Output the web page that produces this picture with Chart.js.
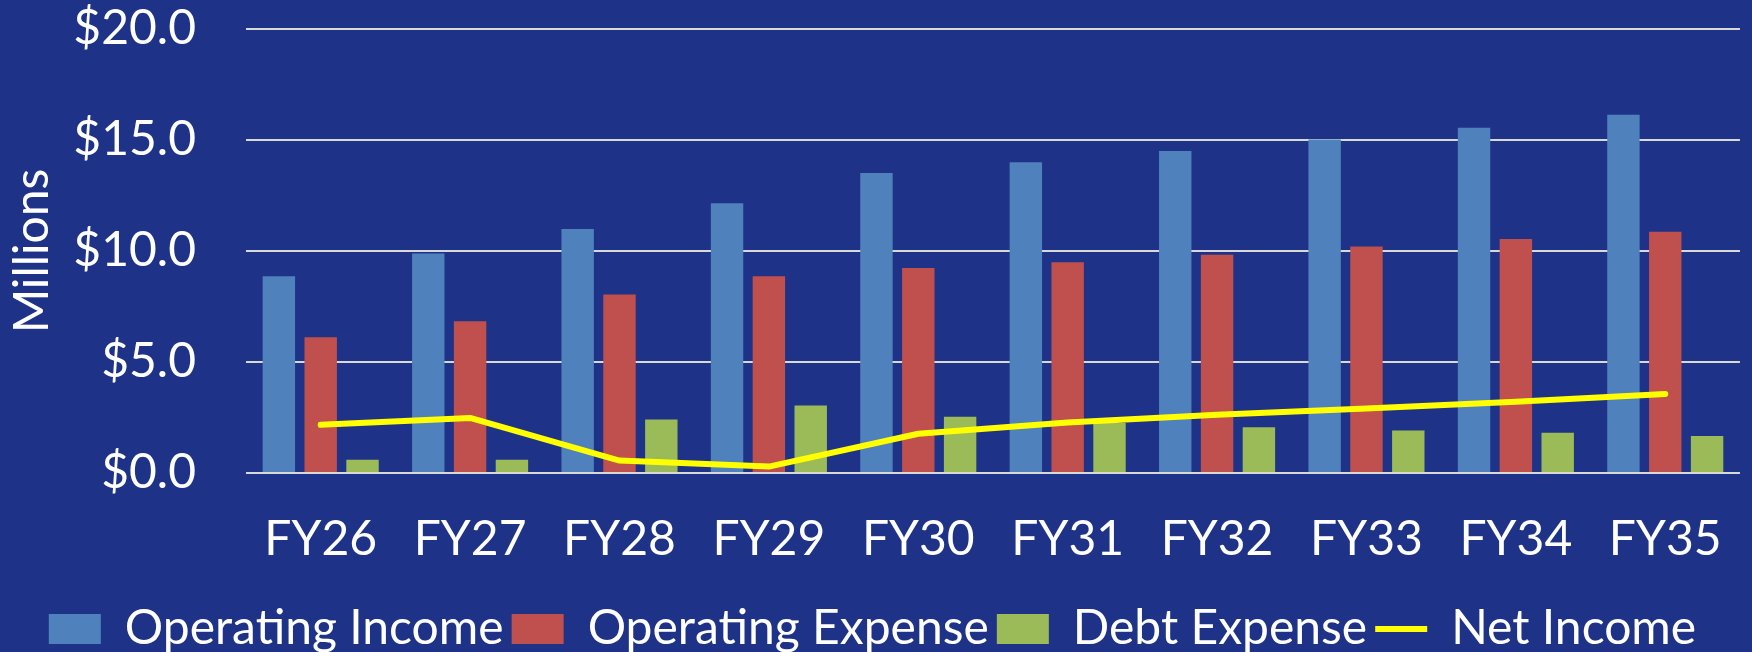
<!DOCTYPE html>
<html>
<head>
<meta charset="utf-8">
<script src="https://cdn.jsdelivr.net/npm/chart.js@4"></script>
<style>
  html, body { margin: 0; padding: 0; background: #1E3388; overflow: hidden; }
  #wrap { position: absolute; left: 0; top: 0; width: 1752px; height: 663px; }
</style>
</head>
<body>
<div id="wrap"><canvas id="myChart1"></canvas></div>
<script>
// fiscal years on the x axis
const years = ['FY26', 'FY27', 'FY28', 'FY29', 'FY30', 'FY31', 'FY32', 'FY33', 'FY34', 'FY35'];

// values in $ millions
const operatingIncome = [8.86, 9.89, 10.99, 12.15, 13.51, 14.0, 14.5, 15.02, 15.55, 16.14];
const operatingExpense = [6.11, 6.84, 8.04, 8.86, 9.23, 9.49, 9.83, 10.2, 10.54, 10.87];
const debtExpense = [0.6, 0.6, 2.41, 3.04, 2.53, 2.25, 2.06, 1.92, 1.81, 1.67];
const netIncome = [2.17, 2.48, 0.56, 0.29, 1.77, 2.27, 2.62, 2.91, 3.21, 3.56];

const yTicks = [0, 5, 10, 15, 20];

const bg = '#1E3388';
const txtFont = { family: 'Lato', size: 48 };

const bgPlugin = {
    id: 'bg',
    beforeDraw(chart) {
        const c = chart.ctx;
        c.save();
        c.fillStyle = bg;
        c.fillRect(0, 0, chart.width, chart.height);
        c.restore();
    }
};

function barSet(label, data, color) {
    return {
        type: 'bar',
        label: label,
        data: data,
        backgroundColor: color,
        borderWidth: 0,
        categoryPercentage: 0.84,
        barPercentage: 0.775,
        order: 1
    };
}

const ctx = document.getElementById('myChart1');

window.myChart = new Chart(ctx, {
    data: {
        labels: years,
        datasets: [
            barSet('Operating Income', operatingIncome, '#4F81BD'),
            barSet('Operating Expense', operatingExpense, '#C0504D'),
            barSet('Debt Expense', debtExpense, '#9BBB59'),
            {
                type: 'line',
                label: 'Net Income',
                data: netIncome,
                borderColor: '#FFFF00',
                backgroundColor: '#FFFF00',
                borderWidth: 6,
                borderCapStyle: 'round',
                borderJoinStyle: 'round',
                pointRadius: 0,
                tension: 0,
                order: 0
            }
        ]
    },
    options: {
        responsive: true,
        maintainAspectRatio: false,
        animation: false,
        layout: { padding: { left: 0, right: 7, top: 29, bottom: 0 } },
        scales: {
            x: {
                grid: { display: false },
                border: { display: false },
                ticks: { color: '#FFFFFF', font: txtFont, padding: 30, maxRotation: 0, autoSkip: false },
                afterFit(scale) { scale.height = 124; }
            },
            y: {
                min: 0,
                max: 20,
                afterBuildTicks(scale) { scale.ticks = yTicks.map(v => ({ value: v })); },
                grid: { color: '#D9D9D9', lineWidth: 2, drawTicks: false },
                border: { display: false },
                ticks: {
                    color: '#FFFFFF',
                    font: txtFont,
                    padding: 50,
                    callback: v => '$' + Number(v).toFixed(1)
                },
                title: {
                    display: true,
                    text: 'Millions',
                    color: '#FFFFFF',
                    font: txtFont,
                    padding: { top: 4, bottom: 4 }
                },
                afterFit(scale) {
                    scale.width = 246;
                    scale.paddingTop = 0;
                    scale.paddingBottom = 0;
                }
            }
        },
        plugins: {
            tooltip: { enabled: false },
            legend: {
                position: 'bottom',
                labels: {
                    color: '#FFFFFF',
                    font: txtFont,
                    usePointStyle: true,
                    pointStyleWidth: 52,
                    boxHeight: 30,
                    padding: 8,
                    sort: (a, b) => a.datasetIndex - b.datasetIndex,
                    generateLabels(chart) {
                        const items = Chart.defaults.plugins.legend.labels.generateLabels(chart);
                        items.forEach(it => {
                            it.pointStyle = chart.data.datasets[it.datasetIndex].type === 'line' ? 'line' : 'rect';
                        });
                        return items;
                    }
                }
            }
        }
    },
    plugins: [bgPlugin]
});
</script>
</body>
</html>
